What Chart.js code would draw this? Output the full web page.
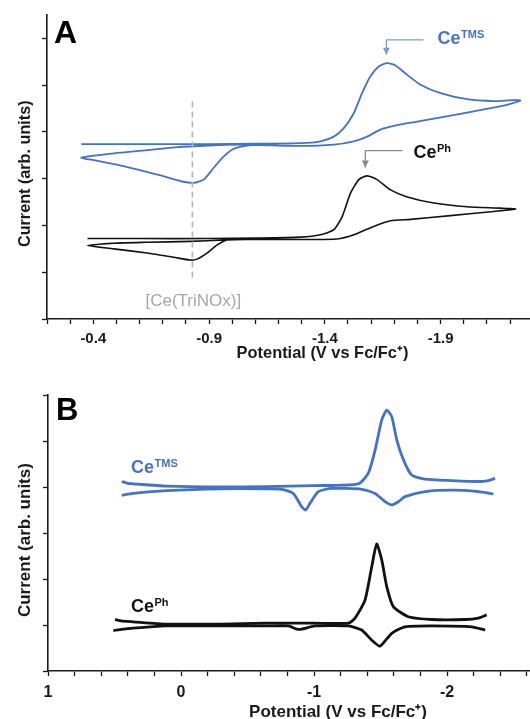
<!DOCTYPE html>
<html><head><meta charset="utf-8">
<script src="https://cdn.jsdelivr.net/npm/chart.js@4.4.1/dist/chart.umd.min.js"></script>
<style>
html,body{margin:0;padding:0;background:#fff;overflow:hidden;width:530px;height:719px;position:relative;}
#cA{position:absolute;left:0;top:0;}
#cB{position:absolute;left:0;top:360px;}
</style></head><body>
<canvas id="cA" width="598" height="365"></canvas>
<canvas id="cB" width="628" height="366"></canvas>
<script>
// ---------- Panel A (CV) ----------
const potA_TMS = [-0.348,-0.6,-0.9,-1.1,-1.295,-1.381,-1.439,-1.482,-1.525,-1.561,-1.597,-1.633,-1.669,-1.705,-1.756,-1.813,-1.90,-2.015,-2.13,-2.216,-2.245,-2.187,-2.087,-1.943,-1.799,-1.698,-1.64,-1.583,-1.525,-1.439,-1.295,-1.10,-1.043,-0.999,-0.956,-0.913,-0.877,-0.834,-0.783,-0.682,-0.538,-0.409,-0.348,-0.466,-0.61,-0.754,-0.898,-1.04,-1.2];
const curA_TMS = [3.74,3.74,3.74,3.75,3.76,3.80,3.90,4.08,4.40,4.83,5.19,5.40,5.47,5.42,5.22,5.01,4.83,4.70,4.66,4.68,4.67,4.58,4.48,4.35,4.22,4.13,4.05,3.90,3.80,3.73,3.70,3.72,3.69,3.62,3.44,3.19,2.98,2.91,2.94,3.08,3.26,3.39,3.45,3.53,3.60,3.67,3.71,3.73,3.74];
const potA_Ph = [-0.375,-0.6,-0.9,-1.1,-1.295,-1.381,-1.439,-1.475,-1.511,-1.547,-1.583,-1.626,-1.684,-1.756,-1.871,-2.015,-2.159,-2.224,-2.13,-1.943,-1.77,-1.684,-1.611,-1.525,-1.453,-1.295,-1.122,-0.978,-0.934,-0.891,-0.848,-0.819,-0.747,-0.632,-0.488,-0.375,-0.488,-0.632,-0.819,-0.963,-1.1];
const curA_Ph = [1.72,1.72,1.72,1.73,1.75,1.80,1.91,2.19,2.69,2.98,3.06,2.98,2.76,2.61,2.48,2.40,2.37,2.35,2.30,2.21,2.13,2.10,1.98,1.80,1.71,1.70,1.70,1.69,1.58,1.41,1.28,1.26,1.32,1.41,1.50,1.57,1.62,1.64,1.66,1.69,1.71];
const potA_ref = [-0.828,-0.828];
const curA_ref = [4.65,0.88];
const arrowA_TMS_x = [-1.826,-1.666,-1.666];
const arrowA_TMS_y = [5.97,5.97,5.65];
const arrowA_Ph_x = [-1.735,-1.575,-1.575];
const arrowA_Ph_y = [3.60,3.60,3.24];
const ticksA_x = [-0.2,-0.3,-0.4,-0.5,-0.6,-0.7,-0.8,-0.9,-1.0,-1.1,-1.2,-1.3,-1.4,-1.5,-1.6,-1.7,-1.8,-1.9,-2.0,-2.1,-2.2,-2.3,-2.4,-2.5];
const labelsA_x = [-0.4,-0.9,-1.4,-1.9,-2.4];
const ticksA_y = [0,1,2,3,4,5,6];

// ---------- Panel B (DPV) ----------
const potB_TMS_f = [0.446,0.40,0.36,0.11,-0.3,-0.632,-1.0,-1.333,-1.408,-1.459,-1.509,-1.547,-1.584,-1.622,-1.672,-1.734,-1.835,-2.035,-2.235,-2.31,-2.361];
const curB_TMS_f = [4.12,4.08,4.07,4.02,4.00,4.01,4.03,4.07,4.30,4.80,5.46,5.67,5.53,5.02,4.59,4.26,4.17,4.14,4.12,4.14,4.19];
const potB_TMS_r = [-2.348,-2.235,-2.035,-1.835,-1.684,-1.634,-1.584,-1.534,-1.459,-1.358,-1.133,-1.032,-0.97,-0.937,-0.907,-0.844,-0.757,-0.632,-0.3,0.11,0.36,0.446];
const curB_TMS_r = [3.85,3.90,3.93,3.90,3.79,3.68,3.61,3.68,3.86,3.95,3.97,3.90,3.65,3.50,3.57,3.86,3.95,3.96,3.96,3.92,3.86,3.82];
const potB_Ph_f = [0.496,0.45,0.36,0.11,-0.3,-0.632,-1.0,-1.258,-1.308,-1.383,-1.434,-1.471,-1.509,-1.547,-1.596,-1.709,-1.885,-2.135,-2.235,-2.298];
const curB_Ph_f = [1.12,1.09,1.07,1.02,1.02,1.04,1.04,1.04,1.15,1.54,2.27,2.76,2.41,1.83,1.40,1.18,1.12,1.12,1.15,1.22];
const potB_Ph_r = [-2.286,-2.185,-1.885,-1.684,-1.584,-1.496,-1.434,-1.358,-1.258,-1.008,-0.907,-0.87,-0.807,-0.632,-0.3,0.11,0.36,0.509];
const curB_Ph_r = [0.89,0.96,0.98,0.96,0.82,0.54,0.67,0.89,0.98,0.98,0.91,0.91,0.98,0.98,0.98,0.98,0.93,0.88];
const ticksB_x = [1,0.8,0.6,0.4,0.2,0,-0.2,-0.4,-0.6,-0.8,-1,-1.2,-1.4,-1.6,-1.8,-2,-2.2,-2.4,-2.6,-2.8,-3,-3.2];
const labelsB_x = [1,0,-1,-2,-3];
const ticksB_y = [0,1,2,3,4,5,6];

// ---------- styling ----------
const BLUE = '#4472c4';
const BLACK = '#111111';
const AXIS = '#1a1a1a';
const FONT = "'Liberation Sans', Arial, Helvetica, sans-serif";

const pts = (xs, ys) => xs.map((x, i) => ({x: x, y: ys[i]}));
const near = (arr, v) => arr.some(a => Math.abs(a - v) < 1e-6);

const labelPlugin = {
  id: 'cvLabels',
  afterDatasetsDraw(chart, args, opts) {
    const ctx = chart.ctx, sx = chart.scales.x, sy = chart.scales.y;
    ctx.save();
    chart.data.datasets.forEach(ds => {
      if (!ds.arrowHead) return;
      const p = ds.data[ds.data.length - 1];
      const px = sx.getPixelForValue(p.x), py = sy.getPixelForValue(p.y);
      ctx.fillStyle = ds.borderColor;
      ctx.beginPath();
      ctx.moveTo(px, py);
      ctx.lineTo(px - 3.5, py - 7);
      ctx.lineTo(px + 3.5, py - 7);
      ctx.closePath();
      ctx.fill();
    });
    (opts.items || []).forEach(it => {
      const px = sx.getPixelForValue(it.x), py = sy.getPixelForValue(it.y);
      ctx.fillStyle = it.color;
      ctx.textBaseline = 'alphabetic';
      ctx.textAlign = it.align || 'left';
      ctx.font = (it.weight || 'bold') + ' ' + it.size + 'px ' + FONT;
      ctx.fillText(it.main, px, py);
      if (it.sup) {
        const w = ctx.measureText(it.main).width;
        ctx.font = 'bold ' + it.supSize + 'px ' + FONT;
        ctx.textAlign = 'left';
        ctx.fillText(it.sup, px + w + 0.5, py - it.supRise);
      }
    });
    (opts.corner || []).forEach(c => {
      ctx.fillStyle = '#000';
      ctx.textAlign = 'left';
      ctx.textBaseline = 'alphabetic';
      ctx.font = 'bold ' + c.size + 'px ' + FONT;
      ctx.fillText(c.text, chart.chartArea.left + c.dx, chart.chartArea.top + c.dy);
    });
    ctx.restore();
  }
};

function xScale(min, max, tickVals, labelVals, fontSize, titleSize, axisH, padB, tickPad, dec) {
  return {
    type: 'linear', reverse: true, min: min, max: max,
    afterBuildTicks: s => { s.ticks = tickVals.map(v => ({value: v})); },
    afterFit: s => { s.height = axisH; },
    grid: {drawOnChartArea: false, drawTicks: true, tickLength: 5, tickColor: AXIS, tickWidth: 1.3},
    border: {display: true, color: AXIS, width: 1.6},
    ticks: {
      autoSkip: false, maxRotation: 0, minRotation: 0, padding: tickPad,
      color: AXIS, font: {family: FONT, size: fontSize, weight: 'bold'},
      callback: v => near(labelVals, v) ? (dec ? v.toFixed(1) : String(Math.round(v))) : ''
    },
    title: {display: true, text: 'Potential (V vs Fc/Fc\u207A)', color: AXIS,
      font: {family: FONT, size: titleSize, weight: 'bold'}, padding: {top: 0, bottom: padB}}
  };
}
function yScale(max, tickVals, axisW, titleSize, padT) {
  return {
    type: 'linear', min: 0, max: max,
    afterBuildTicks: s => { s.ticks = tickVals.map(v => ({value: v})); },
    afterFit: s => { s.width = axisW; },
    grid: {drawOnChartArea: false, drawTicks: true, tickLength: 5, tickColor: AXIS, tickWidth: 1.3},
    border: {display: true, color: AXIS, width: 1.6},
    ticks: {display: false},
    title: {display: true, text: 'Current (arb. units)   ', color: AXIS,
      font: {family: FONT, size: titleSize, weight: 'bold'}, padding: {top: padT, bottom: 0}}
  };
}
const lineDs = (data, color, w, extra) => Object.assign({
  data: data, showLine: true, borderColor: color, backgroundColor: color,
  borderWidth: w, pointRadius: 0, tension: 0.2, fill: false
}, extra || {});

Chart.defaults.animation = false;

new Chart(document.getElementById('cA'), {
  type: 'scatter',
  data: {datasets: [
    lineDs(pts(potA_ref, curA_ref), '#b5b5b5', 1.6, {borderDash: [6, 4], tension: 0}),
    lineDs(pts(potA_TMS, curA_TMS), BLUE, 1.8),
    lineDs(pts(potA_Ph, curA_Ph), BLACK, 1.6),
    lineDs(pts(arrowA_TMS_x, arrowA_TMS_y), '#7a9bd3', 1.3, {tension: 0, arrowHead: true}),
    lineDs(pts(arrowA_Ph_x, arrowA_Ph_y), '#8a8a8a', 1.3, {tension: 0, arrowHead: true})
  ]},
  options: {
    responsive: false, devicePixelRatio: 1, animation: false,
    layout: {padding: {top: 15, left: 0, right: 0, bottom: 0}},
    plugins: {legend: {display: false}, tooltip: {enabled: false},
      cvLabels: {
        items: [
          {x: -1.887, y: 5.87, main: 'Ce', sup: 'TMS', color: BLUE, size: 18, supSize: 11, supRise: 6},
          {x: -1.783, y: 3.45, main: 'Ce', sup: 'Ph', color: BLACK, size: 18, supSize: 11, supRise: 6},
          {x: -0.832, y: 0.28, main: '[Ce(TriNOx)]', color: '#a6a6a6', size: 17, weight: 'normal', align: 'center'}
        ],
        corner: [{text: 'A', size: 32, dx: 7, dy: 28}]
      }
    },
    scales: {
      x: xScale(-2.58, -0.2, ticksA_x, labelsA_x, 15, 16.4, 46, 1.4, 6, true),
      y: yScale(6.5, ticksA_y, 47, 16.2, 15.4)
    }
  },
  plugins: [labelPlugin]
});

new Chart(document.getElementById('cB'), {
  type: 'scatter',
  data: {datasets: [
    lineDs(pts(potB_TMS_f, curB_TMS_f), BLUE, 2.8),
    lineDs(pts(potB_TMS_r, curB_TMS_r), BLUE, 2.8),
    lineDs(pts(potB_Ph_f, curB_Ph_f), BLACK, 2.8),
    lineDs(pts(potB_Ph_r, curB_Ph_r), BLACK, 2.8)
  ]},
  options: {
    responsive: false, devicePixelRatio: 1, animation: false,
    layout: {padding: {top: 35, left: 0, right: 0, bottom: 0}},
    plugins: {legend: {display: false}, tooltip: {enabled: false},
      cvLabels: {
        items: [
          {x: 0.376, y: 4.30, main: 'Ce', sup: 'TMS', color: BLUE, size: 18, supSize: 11, supRise: 6},
          {x: 0.376, y: 1.28, main: 'Ce', sup: 'Ph', color: BLACK, size: 18, supSize: 11, supRise: 6}
        ],
        corner: [{text: 'B', size: 31, dx: 8, dy: 25}]
      }
    },
    scales: {
      x: xScale(-3.36, 1, ticksB_x, labelsB_x, 16, 17, 55, 3.8, 7, false),
      y: yScale(6, ticksB_y, 48, 17, 15.4)
    }
  },
  plugins: [labelPlugin]
});
</script>
</body></html>
